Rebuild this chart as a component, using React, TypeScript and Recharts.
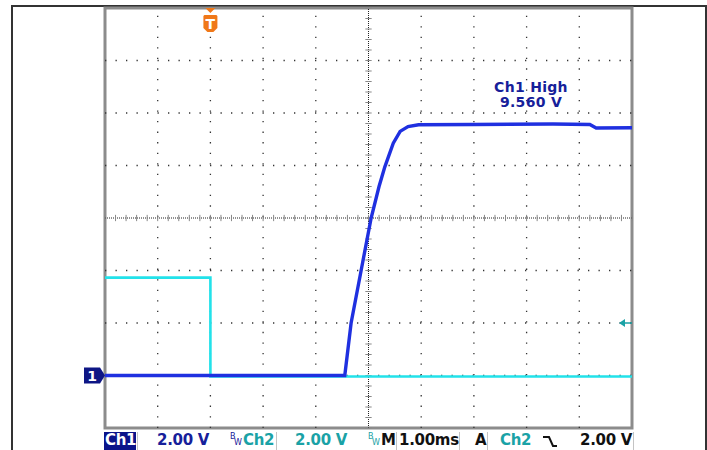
import React from 'react';
import { LineChart, Line, XAxis, YAxis, ReferenceLine, ReferenceArea, ReferenceDot } from 'recharts';

// time in ms, volts; screen spans -2..8 ms and -2..14 V (2 V/div)
const ch1Time = [-2, 2.55, 2.67, 2.86, 3.05, 3.2, 3.31, 3.47, 3.6, 3.75, 3.95, 5.0, 6.5, 7.2, 7.32, 8];
const ch1Volts = [0, 0, 2.0, 4.0, 6.0, 7.2, 7.95, 8.85, 9.3, 9.48, 9.55, 9.56, 9.58, 9.56, 9.43, 9.44];
const ch2Time = [-2, 0, 0, 8];
const ch2Volts = [3.73, 3.73, -0.04, -0.04];

const xDivs = [-1, 0, 1, 2, 4, 5, 6, 7];
const yDivs = [0, 2, 4, 8, 10, 12];
const xMinor = Array.from({ length: 51 }, (_, i) => -2 + i * 0.2);
const yMinor = Array.from({ length: 41 }, (_, i) => -2 + i * 0.4);

const ch1 = ch1Time.map((t, i) => ({ t, v: ch1Volts[i] }));
const ch2 = ch2Time.map((t, i) => ({ t, v: ch2Volts[i] }));

const NAVY = '#16209a';
const TEAL = '#1aa2a6';
const FONT = '"DejaVu Sans", sans-serif';

const Ch1Badge = (props: any) => {
  const { cx, cy } = props;
  return (
    <g>
      <path d={`M${cx - 21},${cy - 8} L${cx - 5},${cy - 8} L${cx},${cy} L${cx - 5},${cy + 8} L${cx - 21},${cy + 8} Z`} fill="#0e1685" />
      <text x={cx - 13} y={cy + 5} fill="#fff" fontSize={14} fontWeight="bold" fontFamily={FONT} textAnchor="middle">1</text>
    </g>
  );
};

const TrigMark = (props: any) => {
  const { cx, cy } = props;
  return (
    <g>
      <path d={`M${cx - 5},${cy} L${cx + 5},${cy} L${cx},${cy + 5} Z`} fill="#f07818" />
      <path
        d={`M${cx - 6},${cy + 7} L${cx + 6},${cy + 7} L${cx + 7},${cy + 8} L${cx + 7},${cy + 20} L${cx + 3},${cy + 24} L${cx - 3},${cy + 24} L${cx - 7},${cy + 20} L${cx - 7},${cy + 8} Z`}
        fill="#f07818"
      />
      <text x={cx} y={cy + 21} fill="#fff" fontSize={14} fontWeight="bold" fontFamily={FONT} textAnchor="middle">T</text>
    </g>
  );
};

const LevelMark = (props: any) => {
  const { cx, cy } = props;
  return (
    <g>
      <path d={`M${cx - 13},${cy} L${cx - 7},${cy - 4} L${cx - 7},${cy + 4} Z`} fill={TEAL} />
      <line x1={cx - 7} y1={cy} x2={cx} y2={cy} stroke={TEAL} strokeWidth={1.5} />
    </g>
  );
};

const txt = (left: number, s: string, color: string) => (
  <div style={{ position: 'absolute', left, top: 432, fontFamily: FONT, fontSize: 15, fontWeight: 'bold', letterSpacing: -0.3, color, lineHeight: '17px', whiteSpace: 'pre' }}>
    {s}
  </div>
);

const sep = (left: number) => (
  <div style={{ position: 'absolute', left, top: 432, width: 1, height: 18, background: '#c4c4c4' }} />
);

const bw = (left: number, color: string) => (
  <div style={{ position: 'absolute', left, top: 432, width: 12, height: 16, fontFamily: FONT, color }}>
    <span style={{ position: 'absolute', left: 0, top: 0, fontSize: 8 }}>B</span>
    <span style={{ position: 'absolute', left: 4, top: 6, fontSize: 8 }}>W</span>
  </div>
);

const readout = (top: number, s: string) => (
  <div style={{ position: 'absolute', left: 471, top, width: 120, textAlign: 'center', fontFamily: FONT, fontSize: 14, fontWeight: 'bold', letterSpacing: 0.3, lineHeight: '14px', color: NAVY }}>
    {s}
  </div>
);

export default function App() {
  return (
    <div style={{ position: 'absolute', left: 0, top: 0, width: 707, height: 450, background: '#fff', overflow: 'hidden' }}>
      {/* outer frame */}
      <div style={{ position: 'absolute', left: 11, top: 5, width: 692, height: 460, border: '2px solid #333', borderBottom: 'none' }} />

      <LineChart width={707} height={450} margin={{ top: 8, right: 75, bottom: 22, left: 105 }} style={{ position: 'absolute', left: 0, top: 0 }}>
        <XAxis dataKey="t" type="number" domain={[-2, 8]} allowDataOverflow ticks={xMinor} interval={0} mirror height={0} tick={false} tickSize={3} axisLine={false} tickLine={{ stroke: '#777' }} />
        <XAxis xAxisId="top" orientation="top" dataKey="t" type="number" domain={[-2, 8]} allowDataOverflow ticks={xMinor} interval={0} mirror height={0} tick={false} tickSize={3} axisLine={false} tickLine={{ stroke: '#777' }} />
        <YAxis dataKey="v" type="number" domain={[-2, 14]} allowDataOverflow ticks={yMinor} interval={0} mirror width={0} tick={false} tickSize={3} axisLine={false} tickLine={{ stroke: '#777' }} />
        <YAxis yAxisId="right" orientation="right" type="number" domain={[-2, 14]} allowDataOverflow ticks={yMinor} interval={0} mirror width={0} tick={false} tickSize={3} axisLine={false} tickLine={{ stroke: '#777' }} />

        {/* dotted graticule */}
        {xDivs.map((x) => (
          <ReferenceLine key={`gx${x}`} x={x} stroke="#333" strokeWidth={1.3} strokeDasharray="1.3 9.24" />
        ))}
        {yDivs.map((y) => (
          <ReferenceLine key={`gy${y}`} y={y} stroke="#333" strokeWidth={1.3} strokeDasharray="1.3 9.2" />
        ))}
        <ReferenceLine x={3} stroke="#222" strokeWidth={1} strokeDasharray="1 1" />
        <ReferenceLine y={6} stroke="#222" strokeWidth={1} strokeDasharray="1 1" />
        {xMinor.map((x) => (
          <ReferenceLine key={`cx${x}`} segment={[{ x, y: 5.88 }, { x, y: 6.12 }]} stroke="#888" strokeWidth={1} />
        ))}
        {yMinor.map((y) => (
          <ReferenceLine key={`cy${y}`} segment={[{ x: 2.94, y }, { x: 3.06, y }]} stroke="#888" strokeWidth={1} />
        ))}
        <ReferenceArea x1={-2} x2={8} y1={-2} y2={14} fill="none" stroke="#8c8c8c" strokeWidth={3} />

        <Line data={ch2} dataKey="v" type="linear" stroke="#22e2ea" strokeWidth={2.6} dot={false} isAnimationActive={false} />
        <Line data={ch1} dataKey="v" type="linear" stroke="#1f30e0" strokeWidth={3.4} dot={false} isAnimationActive={false} />

        <ReferenceDot x={-2} y={0} r={0} ifOverflow="visible" shape={Ch1Badge} />
        <ReferenceDot x={0} y={14} r={0} ifOverflow="visible" shape={TrigMark} />
        <ReferenceDot x={8} y={2} r={0} ifOverflow="visible" shape={LevelMark} />
      </LineChart>

      {/* measurement readout */}
      {readout(80, 'Ch1 High')}
      {readout(95, '9.560 V')}

      {/* status bar */}
      <div style={{ position: 'absolute', left: 104, top: 432, width: 32, height: 18, background: '#0c148a' }} />
      {txt(105, 'Ch1', '#fff')}
      {sep(137)}
      {txt(157, '2.00 V', NAVY)}
      {bw(230, NAVY)}
      {txt(243, 'Ch2', TEAL)}
      {sep(276)}
      {txt(295, '2.00 V', TEAL)}
      {bw(368, TEAL)}
      {txt(381, 'M', '#111')}
      {sep(396)}
      {txt(399, '1.00ms', '#111')}
      {sep(459)}
      {txt(475, 'A', '#111')}
      {sep(487)}
      {txt(500, 'Ch2', TEAL)}
      <svg style={{ position: 'absolute', left: 540, top: 434, width: 20, height: 16 }}>
        <polyline points="3,3 9,3 13,12 17,12" fill="none" stroke="#111" strokeWidth={2} />
      </svg>
      {txt(580, '2.00 V', '#111')}
      {sep(633)}
    </div>
  );
}
